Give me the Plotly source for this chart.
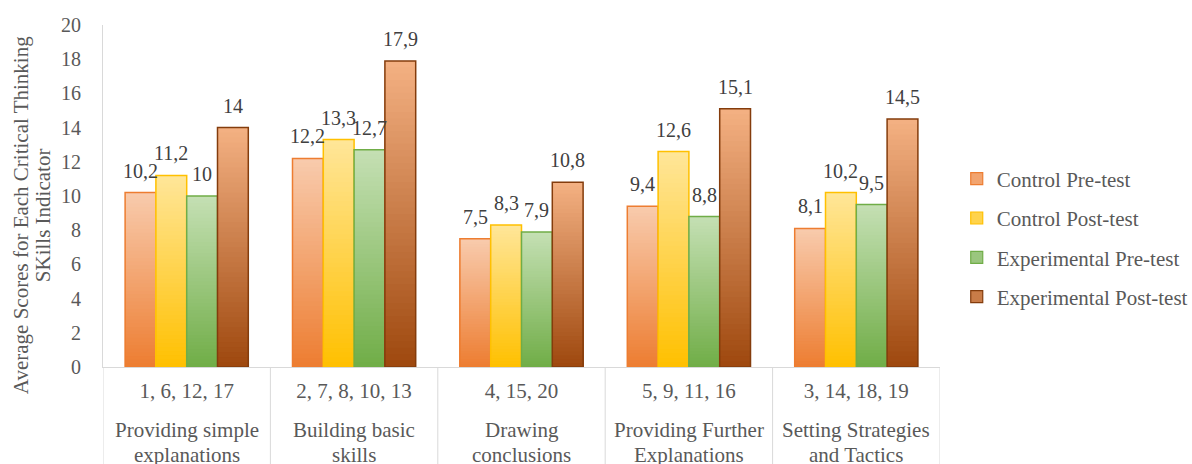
import plotly.graph_objects as go

# Question numbers (axis categories) and the indicator each group belongs to
item_groups = ["1, 6, 12, 17", "2, 7, 8, 10, 13", "4, 15, 20", "5, 9, 11, 16", "3, 14, 18, 19"]
indicators = [
    "Providing simple<br>explanations",
    "Building basic<br>skills",
    "Drawing<br>conclusions",
    "Providing Further<br>Explanations",
    "Setting Strategies<br>and Tactics",
]

series_names = ["Control Pre-test", "Control Post-test", "Experimental Pre-test", "Experimental Post-test"]
control_pre = [10.2, 12.2, 7.5, 9.4, 8.1]
control_post = [11.2, 13.3, 8.3, 12.6, 10.2]
experimental_pre = [10, 12.7, 7.9, 8.8, 9.5]
experimental_post = [14, 17.9, 10.8, 15.1, 14.5]
series_values = [control_pre, control_post, experimental_pre, experimental_post]

y_ticks = list(range(0, 21, 2))
y_title_lines = ["Average Scores for Each Critical Thinking", "SKills Indicator"]

# (top colour, bottom colour, outline colour) for each series' vertical gradient
palette = [
    ("#F8CBAD", "#ED7D31", "#ED7D31"),
    ("#FFE699", "#FFC000", "#FFC000"),
    ("#C5E0B4", "#70AD47", "#70AD47"),
    ("#F4B183", "#9E480E", "#843C0C"),
]

FONT = "Times New Roman"
TEXT = "#595959"
LABEL = "#404040"
AXIS = "#D9D9D9"

BAR_W = 0.184
STEPS = 48


def hex_rgb(h):
    h = h.lstrip("#")
    return tuple(int(h[i:i + 2], 16) for i in (0, 2, 4))


def mix(c_bottom, c_top, t):
    a, b = hex_rgb(c_bottom), hex_rgb(c_top)
    r = [round(a[i] + (b[i] - a[i]) * t) for i in range(3)]
    return f"rgb({r[0]},{r[1]},{r[2]})"


def fmt(v):
    return f"{v:g}".replace(".", ",")


fig = go.Figure()

for s, (name, vals, (top, bottom, edge)) in enumerate(zip(series_names, series_values, palette)):
    off = -2 * BAR_W + s * BAR_W
    # nested bars, each shorter one painted on top, build a top-light / bottom-dark gradient
    for k in range(STEPS, 0, -1):
        frac = k / STEPS
        colour = mix(bottom, top, (k - 0.5) / STEPS)
        fig.add_trace(go.Bar(
            x=item_groups, y=[v * frac for v in vals],
            offset=off, width=BAR_W,
            marker=dict(color=colour, line=dict(width=0)),
            showlegend=False, hoverinfo="skip",
        ))
    # outline of the full bar
    fig.add_trace(go.Bar(
        x=item_groups, y=vals, offset=off, width=BAR_W,
        marker=dict(color="rgba(0,0,0,0)", line=dict(color=edge, width=1.5)),
        showlegend=False, name=name,
    ))
    # legend swatch
    fig.add_trace(go.Bar(
        x=[item_groups[0]], y=[None], offset=off, width=BAR_W,
        marker=dict(color=mix(bottom, top, 0.5), line=dict(color=edge, width=1.2)),
        name=name, legendgroup=name, showlegend=True,
    ))
    # value labels above each bar
    for i, v in enumerate(vals):
        fig.add_annotation(
            x=i + off + BAR_W / 2, y=v, xref="x", yref="y",
            text=fmt(v), showarrow=False, yanchor="bottom", yshift=9,
            font=dict(family=FONT, size=20, color=LABEL),
        )

# indicator names beneath the question numbers
for i, label in enumerate(indicators):
    for j, line in enumerate(label.split("<br>")):
        fig.add_annotation(
            x=i, y=0, xref="x", yref="paper", yanchor="middle",
            yshift=-63 - 25 * j, text=line, showarrow=False,
            font=dict(family=FONT, size=21, color=TEXT),
        )

# group dividers running down through the category labels
for i in range(len(item_groups) + 1):
    fig.add_shape(
        type="line", xref="x", yref="paper",
        x0=i - 0.5, x1=i - 0.5, y0=0, y1=-0.3,
        line=dict(color=AXIS, width=1),
    )

# rotated y-axis title, one annotation per line
for j, line in enumerate(y_title_lines):
    fig.add_annotation(
        x=0, y=0.444, xref="paper", yref="paper", xanchor="center", yanchor="middle",
        xshift=-82 + 22 * j, textangle=-90, text=line, showarrow=False,
        font=dict(family=FONT, size=21, color=TEXT),
    )

fig.update_layout(
    width=1192, height=464,
    margin=dict(l=103, r=252, t=25, b=97, autoexpand=False),
    barmode="overlay",
    plot_bgcolor="white", paper_bgcolor="white",
    font=dict(family=FONT, size=21, color=TEXT),
    legend=dict(
        x=1.020, y=0.377, xanchor="left", yanchor="middle",
        font=dict(family=FONT, size=21, color=TEXT),
        tracegroupgap=9, itemclick=False,
    ),
    xaxis=dict(
        type="category", range=[-0.5, 4.5], automargin=False,
        showline=True, linecolor=AXIS, linewidth=1,
        ticks="", showgrid=False, ticklabelstandoff=5,
        tickfont=dict(family=FONT, size=21, color=TEXT),
    ),
    yaxis=dict(
        range=[0, 20], tickvals=y_ticks, ticktext=[str(t) for t in y_ticks],
        showline=True, linecolor=AXIS, linewidth=1, automargin=False,
        showgrid=False, zeroline=False, ticks="",
        ticklabelstandoff=17,
        tickfont=dict(family=FONT, size=20, color=TEXT),
    ),
)

fig.write_html("out.html")
